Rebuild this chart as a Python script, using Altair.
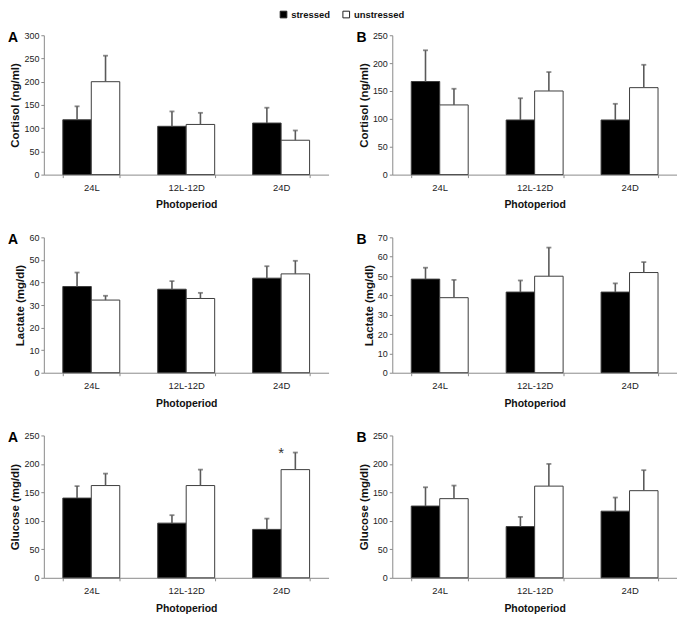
import altair as alt
import pandas as pd

categories = ["24L", "12L-12D", "24D"]
groups = ["stressed", "unstressed"]

# means and standard errors
cortisol_a_stressed = [118, 104, 111]
cortisol_a_stressed_se = [29, 32, 33]
cortisol_a_unstressed = [200, 108, 74]
cortisol_a_unstressed_se = [56, 25, 21]

cortisol_b_stressed = [167, 98, 98]
cortisol_b_stressed_se = [56, 39, 29]
cortisol_b_unstressed = [125, 150, 156]
cortisol_b_unstressed_se = [29, 34, 41]

lactate_a_stressed = [38.2, 37.0, 41.9]
lactate_a_stressed_se = [6.2, 3.6, 5.3]
lactate_a_unstressed = [32.2, 32.9, 43.8]
lactate_a_unstressed_se = [1.9, 2.5, 5.8]

lactate_b_stressed = [48.4, 41.7, 41.7]
lactate_b_stressed_se = [5.9, 6.0, 4.5]
lactate_b_unstressed = [38.8, 49.9, 51.8]
lactate_b_unstressed_se = [9.2, 14.8, 5.4]

glucose_a_stressed = [140, 96, 85]
glucose_a_stressed_se = [21, 14, 19]
glucose_a_unstressed = [162, 162, 190]
glucose_a_unstressed_se = [21, 28, 30]

glucose_b_stressed = [126, 90, 117]
glucose_b_stressed_se = [33, 17, 24]
glucose_b_unstressed = [139, 161, 153]
glucose_b_unstressed_se = [23, 39, 36]

star_period = ["24D"]
star_value = [219]
star_text = ["*"]

FONT = "Liberation Sans"
PANEL_W = 286


def panel(s, s_se, u, u_se, ytitle, ymax, ystep, letter, height, star=False):
    df = pd.DataFrame({
        "period": categories * 2,
        "group": ["stressed"] * 3 + ["unstressed"] * 3,
        "mean": s + u,
        "top": [m + e for m, e in zip(s, s_se)] + [m + e for m, e in zip(u, u_se)],
    })
    x = alt.X("period:N", sort=categories,
              scale=alt.Scale(paddingInner=0.4, paddingOuter=0.2),
              axis=alt.Axis(title="Photoperiod", labelAngle=0, tickBand="extent",
                            labelPadding=5, titlePadding=8, labelFontSize=9.5,
                            titleFontSize=10.5))
    xo = alt.XOffset("group:N", sort=groups,
                     scale=alt.Scale(paddingInner=0, paddingOuter=0))
    yscale = alt.Scale(domain=[0, ymax], nice=False)
    yaxis = alt.Axis(title=ytitle, values=[float(v) for v in range(0, ymax + 1, ystep)],
                     labelPadding=2, titlePadding=3, labelOverlap=False,
                     labelFlush=False, tickCount=len(range(0, ymax + 1, ystep)),
                     titleFontSize=11.5)
    base = alt.Chart(df)
    bars = base.mark_bar(stroke="#3c3c3c", strokeWidth=1).encode(
        x=x, xOffset=xo, y=alt.Y("mean:Q", scale=yscale, axis=yaxis),
        fill=alt.Fill("group:N", sort=groups,
                      scale=alt.Scale(domain=groups, range=["#000000", "#ffffff"]),
                      legend=alt.Legend(title=None, orient="none", direction="horizontal",
                                        legendX=236, legendY=-26, symbolType="square",
                                        symbolSize=45, symbolStrokeColor="#222",
                                        symbolStrokeWidth=1, labelFont=FONT,
                                        labelFontSize=9.5, labelFontWeight="bold",
                                        labelColor="#111", columnPadding=10,
                                        labelOffset=3)))
    rules = base.mark_rule(color="#5a5a5a", strokeWidth=1.6).encode(
        x=x, xOffset=xo, y=alt.Y("mean:Q", scale=yscale, axis=yaxis), y2="top:Q")
    caps = base.mark_tick(color="#5a5a5a", thickness=1.8, size=5).encode(
        x=x, xOffset=xo, y=alt.Y("top:Q", scale=yscale, axis=yaxis))
    layers = [bars, rules, caps]
    if star:
        sdf = pd.DataFrame({"period": star_period, "mean": star_value, "label": star_text})
        layers.append(alt.Chart(sdf).mark_text(font=FONT, fontSize=15, color="#333",
                                               baseline="middle").encode(
            x=x, y=alt.Y("mean:Q", scale=yscale, axis=yaxis), text="label:N"))
    return alt.layer(*layers).properties(
        width=PANEL_W, height=height,
        title=alt.TitleParams(letter, anchor="start", frame="group", dx=-36, dy=14,
                              fontSize=14, fontWeight="bold", font=FONT, color="#000",
                              offset=0))


cA = panel(cortisol_a_stressed, cortisol_a_stressed_se, cortisol_a_unstressed,
           cortisol_a_unstressed_se, "Cortisol (ng/ml)", 300, 50, "A", 140)
cB = panel(cortisol_b_stressed, cortisol_b_stressed_se, cortisol_b_unstressed,
           cortisol_b_unstressed_se, "Cortisol (ng/ml)", 250, 50, "B", 140)
lA = panel(lactate_a_stressed, lactate_a_stressed_se, lactate_a_unstressed,
           lactate_a_unstressed_se, "Lactate (mg/dl)", 60, 10, "A", 136)
lB = panel(lactate_b_stressed, lactate_b_stressed_se, lactate_b_unstressed,
           lactate_b_unstressed_se, "Lactate (mg/dl)", 70, 10, "B", 136)
gA = panel(glucose_a_stressed, glucose_a_stressed_se, glucose_a_unstressed,
           glucose_a_unstressed_se, "Glucose (mg/dl)", 250, 50, "A", 143, star=True)
gB = panel(glucose_b_stressed, glucose_b_stressed_se, glucose_b_unstressed,
           glucose_b_unstressed_se, "Glucose (mg/dl)", 250, 50, "B", 143)

chart = alt.concat(cA, cB, lA, lB, gA, gB, columns=2,
                   spacing=alt.RowColnumber(row=63, column=64),
                   bounds="flush").properties(
    padding=0
).configure_view(strokeWidth=0).configure_axis(
    grid=False, domainColor="#8a8a8a", tickColor="#8a8a8a", tickSize=3,
    labelFont=FONT, labelFontSize=9, labelColor="#222",
    titleFont=FONT, titleFontSize=10.5, titleFontWeight="bold", titleColor="#111",
)

chart.save("out.html", embed_options={"renderer": "svg", "actions": False})
